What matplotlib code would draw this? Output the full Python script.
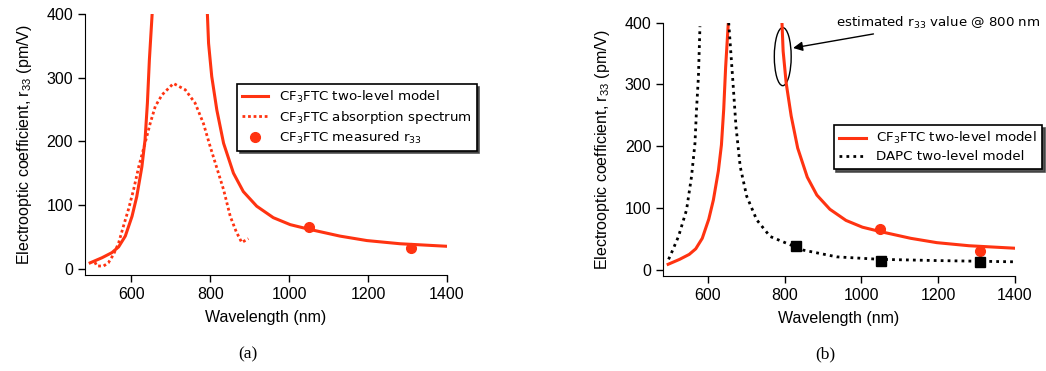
import matplotlib
matplotlib.use("Agg")
from matplotlib import pyplot as plt
from matplotlib.patches import Ellipse

plt.rcParams['font.family'] = ['Liberation Sans', 'DejaVu Sans']
plt.rcParams['mathtext.default'] = 'regular'

RED = '#ff3311'

# CF3FTC two-level model, two branches (same curve in both panels)
cf3_left_x = [496, 526, 551, 568, 585, 602, 614, 627, 635, 641, 646, 653]
cf3_left_y = [9, 17, 25, 34, 51, 82, 113, 160, 202, 260, 328, 400]
cf3_right_x = [793, 796, 804, 817, 834, 859, 884, 918, 960, 1003, 1049, 1129, 1197, 1281, 1400]
cf3_right_y = [400, 354, 302, 249, 197, 150, 121, 98, 80, 69, 62, 51, 44, 39, 35]

# CF3FTC absorption spectrum (scaled)
abs_x = [508, 513, 530, 542, 555, 568, 580, 593, 606, 619, 635, 648, 661, 678, 707, 737,
         762, 783, 800, 817, 834, 851, 866, 880, 897]
abs_y = [10, 4, 4, 9, 22, 40, 66, 93, 124, 160, 197, 228, 255, 273, 291, 281,
         260, 228, 192, 158, 124, 82, 58, 41, 47]

# measured r33
meas_x = [1050, 1310]
meas_y_a = [65, 32]
meas_y_b = [66, 31]

# DAPC two-level model
dapc_left_x = [497, 501, 523, 544, 557, 566, 570, 575, 579]
dapc_left_y = [17, 22, 54, 97, 151, 205, 259, 313, 394]
dapc_right_x = [654, 664, 673, 684, 701, 727, 762, 805, 848, 936, 1049, 1197, 1400]
dapc_right_y = [400, 313, 232, 167, 119, 81, 54, 43, 32, 21, 17, 15, 13]

# DAPC measured
dapc_meas_x = [829, 1051, 1309]
dapc_meas_y = [38, 15, 13]

fig = plt.figure(figsize=(10.46, 3.71), dpi=100)
ax1 = fig.add_axes([0.0813, 0.259, 0.346, 0.703])
ax2 = fig.add_axes([0.634, 0.256, 0.336, 0.683])

for ax in (ax1, ax2):
    ax.spines['top'].set_visible(False)
    ax.spines['right'].set_visible(False)
    ax.set_xlim(483, 1400)
    ax.set_ylim(-10, 400)
    ax.set_xticks([600, 800, 1000, 1200, 1400])
    ax.set_yticks([0, 100, 200, 300, 400])
    ax.tick_params(direction='out', length=5, width=1, labelsize=11.5)
    ax.set_xlabel('Wavelength (nm)', fontsize=11.5, labelpad=6)
    ax.set_ylabel('Electrooptic coefficient, r$_{33}$ (pm/V)', fontsize=11.5, labelpad=9)

leg_font = {'family': 'DejaVu Sans', 'size': 9.6}
shadow = {'color': '0.25', 'alpha': 0.9}

# (a)
l1, = ax1.plot(cf3_left_x, cf3_left_y, color=RED, lw=2.2)
ax1.plot(cf3_right_x, cf3_right_y, color=RED, lw=2.2)
l2, = ax1.plot(abs_x, abs_y, color=RED, lw=2, linestyle=(0, (1, 1)))
l3, = ax1.plot(meas_x, meas_y_a, 'o', color=RED, ms=7, lw=0)
leg = ax1.legend([l1, l2, l3],
                 ['CF$_3$FTC two-level model', 'CF$_3$FTC absorption spectrum', 'CF$_3$FTC measured r$_{33}$'],
                 loc='upper left', bbox_to_anchor=(0.2266, 0.7736), bbox_transform=fig.transFigure,
                 borderaxespad=0, fancybox=False, shadow=shadow, framealpha=1,
                 prop=leg_font, labelspacing=0.3, borderpad=0.35)
leg.get_frame().set_edgecolor('black')
leg.get_frame().set_linewidth(1.2)

# (b)
m1, = ax2.plot(cf3_left_x, cf3_left_y, color=RED, lw=2.2)
ax2.plot(cf3_right_x, cf3_right_y, color=RED, lw=2.2)
ax2.plot(meas_x, meas_y_b, 'o', color=RED, ms=7, lw=0)
m2, = ax2.plot(dapc_left_x, dapc_left_y, color='black', lw=2, linestyle=(0, (1, 1.5)))
ax2.plot(dapc_right_x, dapc_right_y, color='black', lw=2, linestyle=(0, (1, 1.5)))
ax2.plot(dapc_meas_x, dapc_meas_y, 's', color='black', ms=6.5, lw=0)
leg2 = ax2.legend([m1, m2], ['CF$_3$FTC two-level model', 'DAPC two-level model'],
                  loc='upper left', bbox_to_anchor=(0.797, 0.663), bbox_transform=fig.transFigure,
                  borderaxespad=0, fancybox=False, shadow=shadow, framealpha=1,
                  prop=leg_font, labelspacing=0.3, borderpad=0.4)
leg2.get_frame().set_edgecolor('black')
leg2.get_frame().set_linewidth(1.2)

ax2.add_patch(Ellipse((795, 345), width=44, height=94, fill=False, edgecolor='black', lw=1))
ax2.annotate('estimated r$_{33}$ value @ 800 nm', xy=(822, 359), xytext=(934, 400),
             fontsize=9.6, family='DejaVu Sans', va='center', ha='left', annotation_clip=False,
             arrowprops=dict(arrowstyle='-|>', color='black', lw=1, mutation_scale=14, shrinkA=2, shrinkB=0))

fig.text(0.237, 0.046, '(a)', family='Liberation Serif', fontsize=12.5, ha='center', va='center')
fig.text(0.789, 0.046, '(b)', family='Liberation Serif', fontsize=12.5, ha='center', va='center')

fig.savefig('out.png', dpi=100)
